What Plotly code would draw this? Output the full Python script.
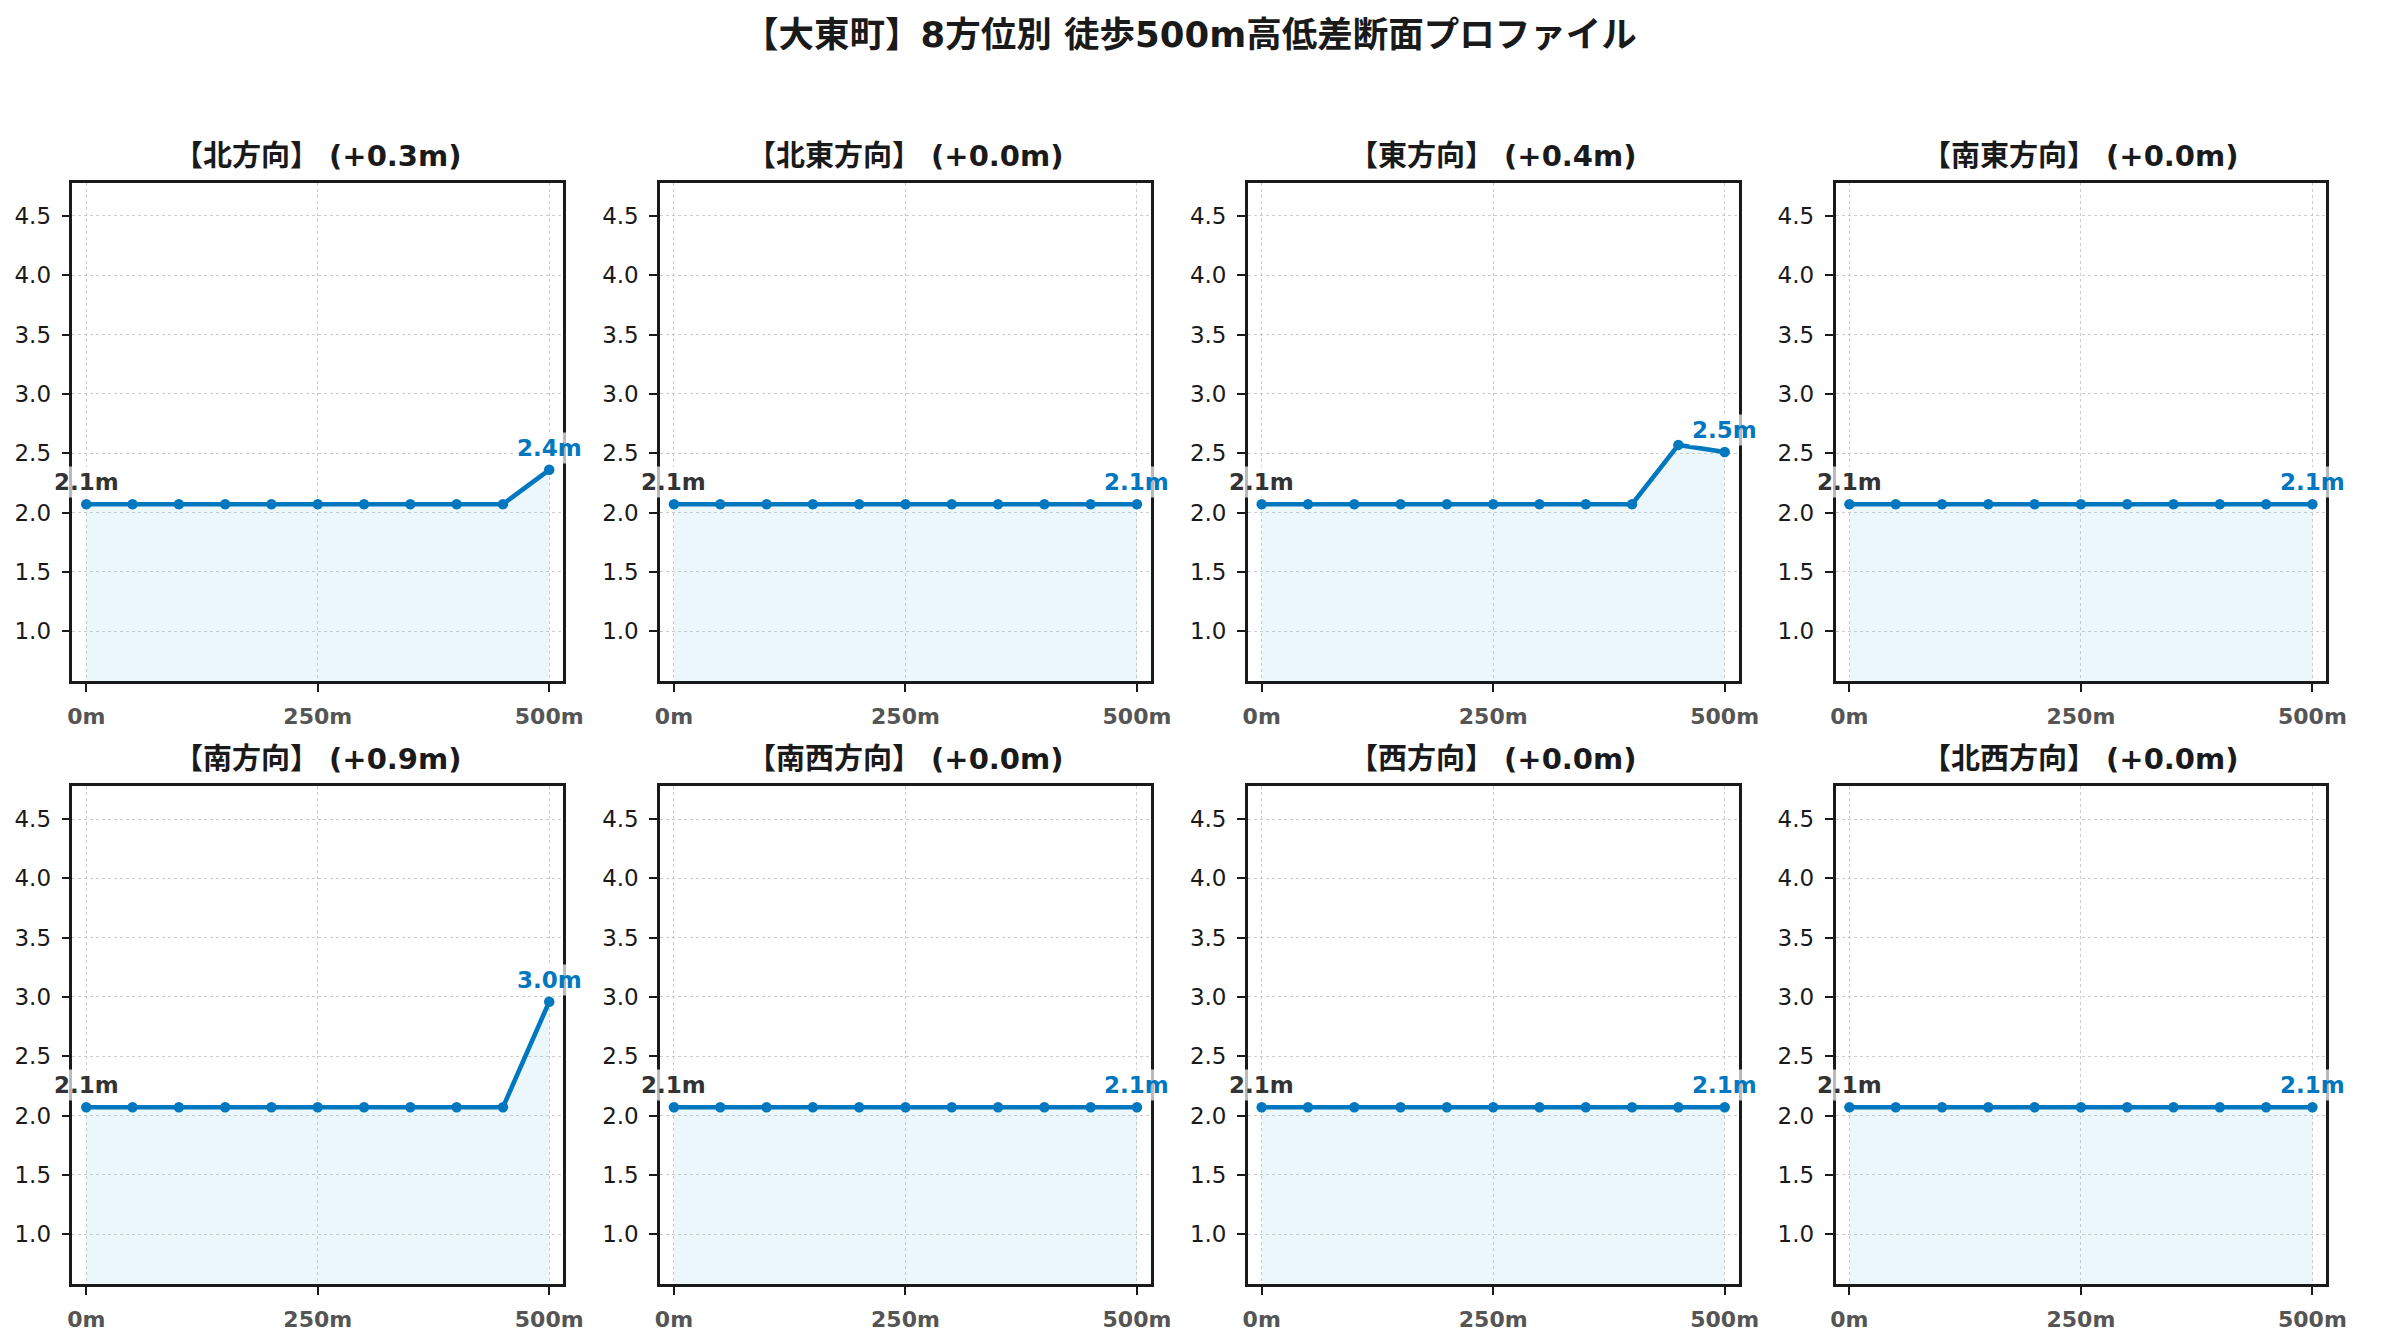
import plotly.graph_objects as go
from plotly.subplots import make_subplots

# 8方位の標高プロファイル (m)
directions = ["北", "北東", "東", "南東", "南", "南西", "西", "北西"]
distances = [0, 50, 100, 150, 200, 250, 300, 350, 400, 450, 500]

elev_n = [2.07, 2.07, 2.07, 2.07, 2.07, 2.07, 2.07, 2.07, 2.07, 2.07, 2.36]
elev_ne = [2.07, 2.07, 2.07, 2.07, 2.07, 2.07, 2.07, 2.07, 2.07, 2.07, 2.07]
elev_e = [2.07, 2.07, 2.07, 2.07, 2.07, 2.07, 2.07, 2.07, 2.07, 2.57, 2.51]
elev_se = [2.07, 2.07, 2.07, 2.07, 2.07, 2.07, 2.07, 2.07, 2.07, 2.07, 2.07]
elev_s = [2.07, 2.07, 2.07, 2.07, 2.07, 2.07, 2.07, 2.07, 2.07, 2.07, 2.96]
elev_sw = [2.07, 2.07, 2.07, 2.07, 2.07, 2.07, 2.07, 2.07, 2.07, 2.07, 2.07]
elev_w = [2.07, 2.07, 2.07, 2.07, 2.07, 2.07, 2.07, 2.07, 2.07, 2.07, 2.07]
elev_nw = [2.07, 2.07, 2.07, 2.07, 2.07, 2.07, 2.07, 2.07, 2.07, 2.07, 2.07]

profiles = [elev_n, elev_ne, elev_e, elev_se, elev_s, elev_sw, elev_w, elev_nw]

x_ticks = [0, 250, 500]
x_ticktext = ["0m", "250m", "500m"]

# the page has an 8px body margin; keep the figure inside the window
OFF = 8
W, H = 2381 - 2 * OFF, 1340 - 2 * OFF
LINE = "#0077BE"
FONT = "DejaVu Sans, Noto Sans CJK JP, sans-serif"


def px_x(p):
    return (p - OFF) / W


def px_y(p):
    return 1 - (p - OFF) / H


fig = make_subplots(rows=2, cols=4)

# axes boxes in page pixels
col_px = [(68, 564), (662, 1158), (1256, 1752), (1850, 2346)]
row_px = [(183, 682), (787, 1286)]

for i, (name, vals) in enumerate(zip(directions, profiles)):
    r, c = i // 4, i % 4
    n = i + 1
    fig.add_trace(
        go.Scatter(
            x=distances, y=vals,
            mode="lines+markers",
            fill="tozeroy",
            fillcolor="rgba(135,206,235,0.16)",
            line=dict(color=LINE, width=4.6),
            marker=dict(color=LINE, size=10.5),
            showlegend=False,
            hoverinfo="skip",
        ),
        row=r + 1, col=c + 1,
    )

    x0, x1 = col_px[c]
    y0, y1 = row_px[r]
    sfx = "" if n == 1 else str(n)
    fig.layout["xaxis" + sfx].update(domain=[px_x(x0), px_x(x1)])
    fig.layout["yaxis" + sfx].update(domain=[px_y(y1), px_y(y0)])

    gain = vals[-1] - vals[0]
    fig.add_annotation(
        text=f"<b>【{name}方向】 (+{gain:.1f}m)</b>",
        x=px_x((x0 + x1) / 2), y=px_y(y0 - 27),
        xref="paper", yref="paper", xanchor="center", yanchor="middle",
        showarrow=False, font=dict(family=FONT, size=29, color="#1a1a1a"),
    )
    # start / end labels
    fig.add_annotation(
        text=f"<b>{vals[0]:.1f}m</b>", x=distances[0], y=vals[0],
        xref="x" + sfx, yref="y" + sfx, yshift=22, showarrow=False,
        font=dict(family=FONT, size=23, color="#333333"),
        bgcolor="rgba(255,255,255,0.7)", borderpad=2,
    )
    fig.add_annotation(
        text=f"<b>{vals[-1]:.1f}m</b>", x=distances[-1], y=vals[-1],
        xref="x" + sfx, yref="y" + sfx, yshift=22, showarrow=False,
        font=dict(family=FONT, size=23, color=LINE),
        bgcolor="rgba(255,255,255,0.7)", borderpad=2,
    )

fig.update_xaxes(
    range=[-15, 515], tickvals=x_ticks, ticktext=x_ticktext,
    tickfont=dict(family=FONT, size=22, color="#555555", weight="bold"),
    showline=True, linecolor="#1a1a1a", linewidth=2.5, mirror=True,
    ticks="outside", ticklen=8, tickwidth=2, tickcolor="#1a1a1a",
    ticklabelstandoff=6,
    showgrid=True, gridcolor="#cccccc", gridwidth=1.3, griddash="dot",
    zeroline=False,
)
fig.update_yaxes(
    range=[0.58, 4.78], tickvals=[1.0, 1.5, 2.0, 2.5, 3.0, 3.5, 4.0, 4.5],
    ticktext=["1.0", "1.5", "2.0", "2.5", "3.0", "3.5", "4.0", "4.5"],
    tickfont=dict(family=FONT, size=23, color="#1a1a1a"),
    showline=True, linecolor="#1a1a1a", linewidth=2.5, mirror=True,
    ticks="outside", ticklen=8, tickwidth=2, tickcolor="#1a1a1a",
    ticklabelstandoff=6,
    showgrid=True, gridcolor="#cccccc", gridwidth=1.3, griddash="dot",
    zeroline=False,
)

fig.add_annotation(
    text="<b>【大東町】8方位別 徒歩500m高低差断面プロファイル</b>",
    x=px_x(1198), y=px_y(35), xref="paper", yref="paper",
    xanchor="center", yanchor="middle", showarrow=False,
    font=dict(family=FONT, size=35.5, color="#1a1a1a"),
)

fig.update_layout(
    width=W, height=H,
    margin=dict(l=0, r=0, t=0, b=0),
    paper_bgcolor="white", plot_bgcolor="white",
    font=dict(family=FONT),
)

fig.write_html("out.html")
